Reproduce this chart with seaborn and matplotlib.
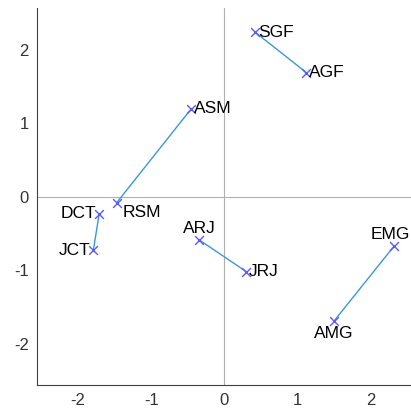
import seaborn as sns
import pandas as pd
import matplotlib.pyplot as plt

names = ['SGF', 'AGF', 'ASM', 'RSM', 'DCT', 'JCT', 'ARJ', 'JRJ', 'EMG', 'AMG']
xs = [0.42, 1.12, -0.45, -1.47, -1.71, -1.79, -0.34, 0.30, 2.32, 1.50]
ys = [2.24, 1.69, 1.20, -0.08, -0.23, -0.73, -0.59, -1.02, -0.67, -1.69]
pairs = ['GF', 'GF', 'SM', 'SM', 'CT', 'CT', 'RJ', 'RJ', 'MG', 'MG']
# where each label sits relative to its marker
spots = ['right', 'right', 'right', 'lowright', 'left', 'left', 'up', 'right', 'upleft', 'down']

df = pd.DataFrame({'name': names, 'x': xs, 'y': ys, 'pair': pairs, 'spot': spots})

sns.set_style('white')
plt.rcParams['font.family'] = ['Liberation Sans', 'DejaVu Sans']
plt.rcParams['axes.unicode_minus'] = False

fig = plt.figure(figsize=(4.11, 4.16), dpi=100)
ax = fig.add_axes([0.09, 0.075, 0.91, 0.906])

ax.axhline(0, color='#b0b0b0', lw=0.8, zorder=0)
ax.axvline(0, color='#b0b0b0', lw=0.8, zorder=0)

sns.lineplot(data=df, x='x', y='y', units='pair', estimator=None, sort=False,
             color='#3a98d8', lw=1, ax=ax)
sns.scatterplot(data=df, x='x', y='y', marker='x', color='#5a5aff', s=40,
                linewidth=1, ax=ax, zorder=3)

offs = {'right': (2, 0, 'left', 'center'),
        'left': (-2, 0, 'right', 'center'),
        'up': (0, 3, 'center', 'bottom'),
        'upleft': (-3, 3, 'center', 'bottom'),
        'down': (0, -4, 'center', 'top'),
        'lowright': (4, -2, 'left', 'top')}
for _, r in df.iterrows():
    dx, dy, ha, va = offs[r['spot']]
    ax.annotate(r['name'], (r['x'], r['y']), xytext=(dx, dy), textcoords='offset points',
                ha=ha, va=va, fontsize=12.5, color='black')

ax.set_xlim(-2.56, 2.55)
ax.set_ylim(-2.56, 2.57)
ax.set_xticks([-2, -1, 0, 1, 2])
ax.set_yticks([-2, -1, 0, 1, 2])
ax.set_xlabel('')
ax.set_ylabel('')
ax.tick_params(direction='in', length=3, width=0.8, colors='#333333', labelsize=12, pad=6)
for s in ['top', 'right']:
    ax.spines[s].set_visible(False)
for s in ['left', 'bottom']:
    ax.spines[s].set_color('#404040')
    ax.spines[s].set_linewidth(0.8)

fig.savefig('out.png', dpi=100)
